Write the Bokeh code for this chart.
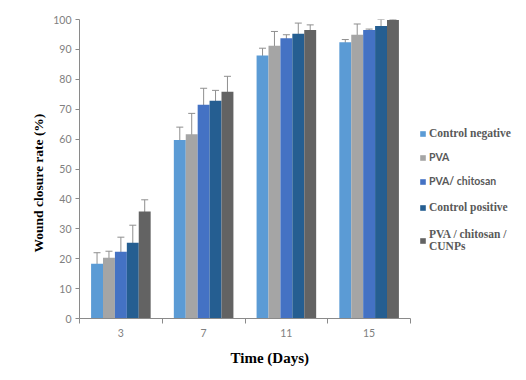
from bokeh.plotting import figure
from bokeh.models import (Range1d, FixedTicker, ColumnDataSource, Whisker, TeeHead,
                          Legend, LegendItem, Title)
from bokeh.embed import file_html
from bokeh.resources import INLINE

days = ["3", "7", "11", "15"]
series = ["Control negative", "PVA", "PVA/ chitosan", "Control positive", "PVA / chitosan /\nCUNPs"]
colors = ["#5B9BD5", "#A5A5A5", "#4472C4", "#255E91", "#636363"]

control_negative = [18.3, 59.7, 88.0, 92.4]
control_negative_err = [3.7, 4.3, 2.4, 0.9]
pva = [20.3, 61.6, 91.2, 94.9]
pva_err = [2.2, 7.0, 4.8, 3.6]
pva_chitosan = [22.3, 71.5, 93.7, 96.5]
pva_chitosan_err = [4.9, 5.5, 1.2, 0.3]
control_positive = [25.3, 72.8, 95.2, 97.8]
control_positive_err = [5.9, 3.5, 3.6, 2.2]
pva_chitosan_cunps = [35.8, 75.8, 96.5, 99.8]
pva_chitosan_cunps_err = [3.9, 5.2, 1.7, 0.2]

values = [control_negative, pva, pva_chitosan, control_positive, pva_chitosan_cunps]
errors = [control_negative_err, pva_err, pva_chitosan_err, control_positive_err, pva_chitosan_cunps_err]

n = len(days)
axis_px = 331          # pixel length of the drawn x axis
frame_px = 439         # frame extends to the right to hold the legend
p = figure(frame_width=frame_px, frame_height=299, output_backend="svg", toolbar_location=None,
           x_range=Range1d(0, n * frame_px / axis_px), y_range=Range1d(0, 100),
           min_border_left=79, min_border_right=0, min_border_top=19, min_border_bottom=54)
p.xgrid.visible = False
p.ygrid.visible = False
p.outline_line_color = None

bar_w = 0.144
renderers = []
for k, (vals, errs, col) in enumerate(zip(values, errors, colors)):
    off = (k - 2) * bar_w
    xs = [i + 0.5 + off for i in range(n)]
    src = ColumnDataSource(dict(x=xs, top=vals,
                                upper=[v + e for v, e in zip(vals, errs)],
                                lower=[v - e for v, e in zip(vals, errs)]))
    r = p.vbar(x="x", top="top", width=bar_w, source=src, fill_color=col, line_color=None)
    renderers.append(r)
    w = Whisker(base="x", upper="upper", lower="lower", source=src,
                line_color="#8f8f8f", line_width=1,
                upper_head=TeeHead(size=7, line_color="#8f8f8f", line_width=1),
                lower_head=TeeHead(size=7, line_color="#8f8f8f", line_width=1))
    p.add_layout(w)

# axes
ax_col = "#8a8a8a"
p.xaxis.bounds = (0, n)
p.xaxis.ticker = FixedTicker(ticks=[i + 0.5 for i in range(n)],
                             minor_ticks=list(range(n + 1)))
p.xaxis.major_label_overrides = {i + 0.5: d for i, d in enumerate(days)}
p.xaxis.major_tick_line_color = None
p.xaxis.major_tick_out = 0
p.xaxis.major_tick_in = 0
p.xaxis.minor_tick_out = 5
p.xaxis.minor_tick_in = 0
p.xaxis.minor_tick_line_color = ax_col
p.xaxis.axis_line_color = ax_col
p.xaxis.major_label_standoff = 5

p.yaxis.ticker = FixedTicker(ticks=list(range(0, 101, 10)))
p.yaxis.major_tick_out = 4
p.yaxis.major_tick_in = 0
p.yaxis.minor_tick_line_color = None
p.yaxis.major_tick_line_color = ax_col
p.yaxis.axis_line_color = ax_col
p.yaxis.major_label_standoff = 4

for ax in (p.xaxis, p.yaxis):
    ax.major_label_text_font = "Lato"
    ax.major_label_text_font_size = "10.5px"
    ax.major_label_text_color = "#808080"

# axis titles
yt = Title(text="Wound closure rate (%)", align="left", offset=66, standoff=10,
           text_font="Liberation Serif", text_font_size="13.5px", text_font_style="bold",
           text_color="black")
p.add_layout(yt, "left")
xt = Title(text="Time (Days)", align="left", offset=151, standoff=16,
           text_font="Liberation Serif", text_font_size="15px", text_font_style="bold",
           text_color="black")
p.add_layout(xt, "below")

# legends (mixed fonts as in the reference), drawn inside the widened frame
leg_y = [178, 154, 130, 104, 66]
fonts = [("Times New Roman", "11.5px"), ("Lato", "10.5px"), ("Lato", "10.5px"),
         ("Times New Roman", "11.5px"), ("Times New Roman", "11.5px")]
for r, name, ly, (fnt, fs) in zip(renderers, series, leg_y, fonts):
    lg = Legend(items=[LegendItem(label=name, renderers=[r])], location=(340, ly),
                orientation="vertical", border_line_color=None, background_fill_alpha=0,
                glyph_width=7, glyph_height=7, label_standoff=3, padding=0, margin=0,
                spacing=0, label_height=14,
                label_text_font=fnt, label_text_font_size=fs, label_text_font_style="bold",
                label_text_color="#595959", label_text_line_height=1.0)
    p.add_layout(lg, "center")

open("out.html", "w").write(file_html(p, INLINE))
